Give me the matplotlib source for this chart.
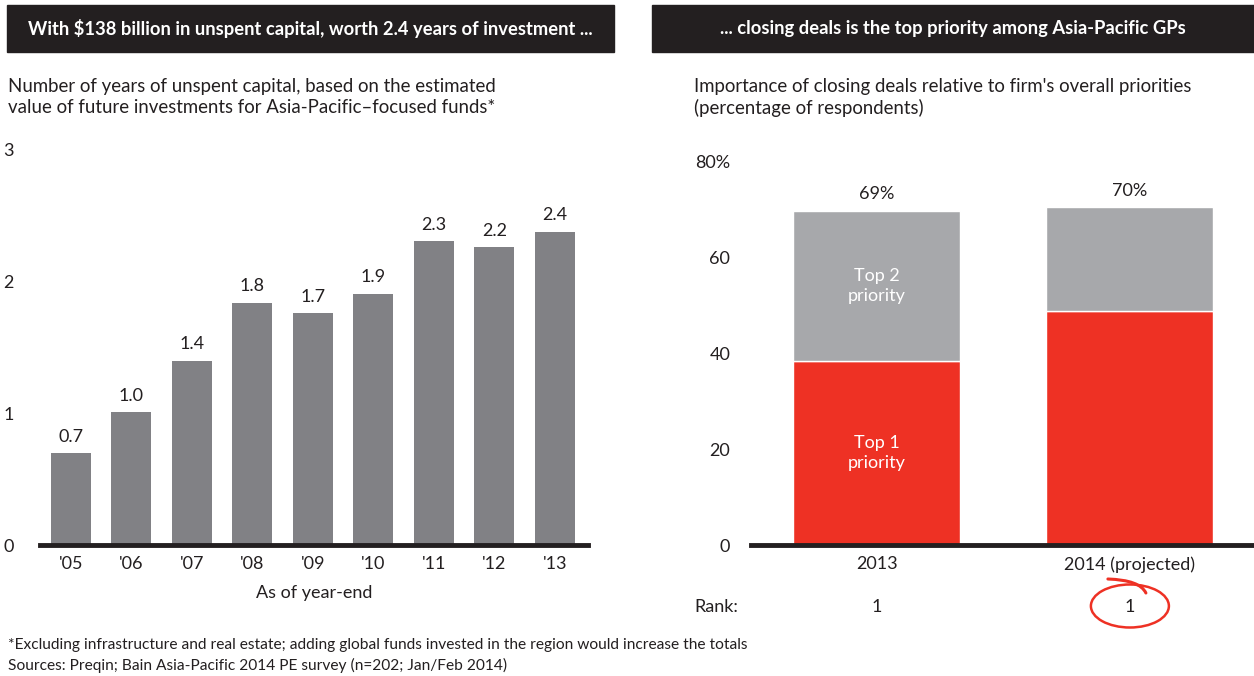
import matplotlib
matplotlib.use("Agg")
import matplotlib.pyplot as plt
from matplotlib.patches import Rectangle, Ellipse, PathPatch
from matplotlib.path import Path

plt.rcParams['font.family'] = ['Lato', 'DejaVu Sans']

# Left chart data: years of unspent capital
years = ["'05", "'06", "'07", "'08", "'09", "'10", "'11", "'12", "'13"]
years_unspent = [0.70, 1.01, 1.40, 1.84, 1.76, 1.91, 2.31, 2.26, 2.38]
years_labels = ["0.7", "1.0", "1.4", "1.8", "1.7", "1.9", "2.3", "2.2", "2.4"]

# Right chart data: importance of closing deals (% of respondents)
periods = ["2013", "2014 (projected)"]
top1 = [38.5, 48.8]
top2 = [31.3, 21.8]
totals = ["69%", "70%"]
ranks = ["1", "1"]

DARK = '#231F20'
BAR_GREY = '#818185'
LIGHT_GREY = '#A7A8AB'
RED = '#EE3124'
TXT = '#231F20'

W, H = 1254, 676
fig = plt.figure(figsize=(W / 100, H / 100), dpi=100)


def fx(px):
    return px / W


def fy(py):
    return 1 - py / H


# Header bars
for x0, x1, title in [(7, 614, "With $138 billion in unspent capital, worth 2.4 years of investment ..."),
                      (652, 1254, "... closing deals is the top priority among Asia-Pacific GPs")]:
    fig.patches.append(Rectangle((fx(x0), fy(52)), fx(x1 - x0), (52 - 5) / H,
                                 transform=fig.transFigure, color=DARK, zorder=0))
    fig.text(fx((x0 + x1) / 2), fy(28.5), title, color='white', fontsize=13.2, fontweight='bold',
             ha='center', va='center')

# Subtitles
fig.text(fx(8), fy(78), "Number of years of unspent capital, based on the estimated\n"
         "value of future investments for Asia-Pacific\u2013focused funds*",
         fontsize=13.4, color=TXT, ha='left', va='top', linespacing=1.27)
fig.text(fx(694), fy(78), "Importance of closing deals relative to firm's overall priorities\n"
         "(percentage of respondents)",
         fontsize=13.4, color=TXT, ha='left', va='top', linespacing=1.27)

# ---- Left chart ----
ax1 = fig.add_axes([fx(40), fy(545), fx(548), (545 - 150) / H])
x = list(range(len(years)))
ax1.bar(x, years_unspent, width=0.66, color=BAR_GREY, zorder=2)
for xi, v, lab in zip(x, years_unspent, years_labels):
    ax1.annotate(lab, (xi, v), xytext=(0, 6), textcoords='offset points',
                 ha='center', va='bottom', fontsize=13, color=TXT)
ax1.set_xlim(-0.51, 8.55)
ax1.set_ylim(0, 3)
ax1.set_yticks([0, 1, 2, 3])
ax1.set_yticklabels(['0', '1', '2', '3'])
ax1.set_xticks(x)
ax1.set_xticklabels(years)
ax1.tick_params(axis='both', length=0, labelsize=13, colors=TXT)
ax1.tick_params(axis='y', pad=19)
ax1.tick_params(axis='x', pad=8)
for s in ax1.spines.values():
    s.set_visible(False)
ax1.axhline(0, color=DARK, lw=3.5, zorder=3, clip_on=False)
ax1.set_xlabel("As of year-end", fontsize=13, color=TXT, labelpad=9)
ax1.patch.set_alpha(0)

# ---- Right chart ----
ax2 = fig.add_axes([fx(751), fy(545), fx(503), (545 - 162) / H])
xr = [0, 1]
ax2.bar(xr, top1, width=0.66, color=RED, edgecolor='white', linewidth=1, zorder=2)
ax2.bar(xr, top2, bottom=top1, width=0.66, color=LIGHT_GREY, edgecolor='white', linewidth=1, zorder=2)
for xi, a, b, lab in zip(xr, top1, top2, totals):
    ax2.annotate(lab, (xi, a + b), xytext=(0, 6), textcoords='offset points',
                 ha='center', va='bottom', fontsize=13, color=TXT)
ax2.text(0, top1[0] / 2, "Top 1\npriority", color='white', fontsize=13, ha='center', va='center',
         linespacing=1.3)
ax2.text(0, top1[0] + top2[0] / 2, "Top 2\npriority", color='white', fontsize=13, ha='center',
         va='center', linespacing=1.3)
ax2.set_xlim(-0.496, 1.49)
ax2.set_ylim(0, 80)
ax2.set_yticks([0, 20, 40, 60, 80])
ax2.set_yticklabels(['0', '20', '40', '60', '80%'])
ax2.set_xticks(xr)
ax2.set_xticklabels(periods)
ax2.tick_params(axis='both', length=0, labelsize=13, colors=TXT)
ax2.tick_params(axis='y', pad=15)
ax2.tick_params(axis='x', pad=8)
for s in ax2.spines.values():
    s.set_visible(False)
ax2.axhline(0, color=DARK, lw=3.5, zorder=3, clip_on=False)
ax2.patch.set_alpha(0)

# Rank row
fig.text(fx(694), fy(607), "Rank:", fontsize=13, color=TXT, ha='left', va='center')
for xi, r in zip(xr, ranks):
    xpix = ax2.transData.transform((xi, 0))[0]
    fig.text(xpix / W, fy(607), r, fontsize=13, color=TXT, ha='center', va='center')

# Hand-drawn style circle around 2014 rank
cx = ax2.transData.transform((1, 0))[0]
fig.patches.append(Ellipse((fx(cx), fy(606)), fx(78), 43 / H, transform=fig.transFigure,
                           fill=False, edgecolor=RED, lw=1.8))
tail = Path([(fx(cx - 22), fy(579)), (fx(cx + 10), fy(580)), (fx(cx + 16), fy(593))],
            [Path.MOVETO, Path.CURVE3, Path.CURVE3])
fig.patches.append(PathPatch(tail, transform=fig.transFigure, fill=False,
                             edgecolor=RED, lw=2.2, capstyle='round'))

# Footnotes
fig.text(fx(8), fy(645), "*Excluding infrastructure and real estate; adding global funds invested in the region "
         "would increase the totals", fontsize=11.2, color=TXT, ha='left', va='center')
fig.text(fx(8), fy(665), "Sources: Preqin; Bain Asia-Pacific 2014 PE survey (n=202; Jan/Feb 2014)",
         fontsize=11.2, color=TXT, ha='left', va='center')

fig.savefig('out.png', dpi=100, facecolor='white')
